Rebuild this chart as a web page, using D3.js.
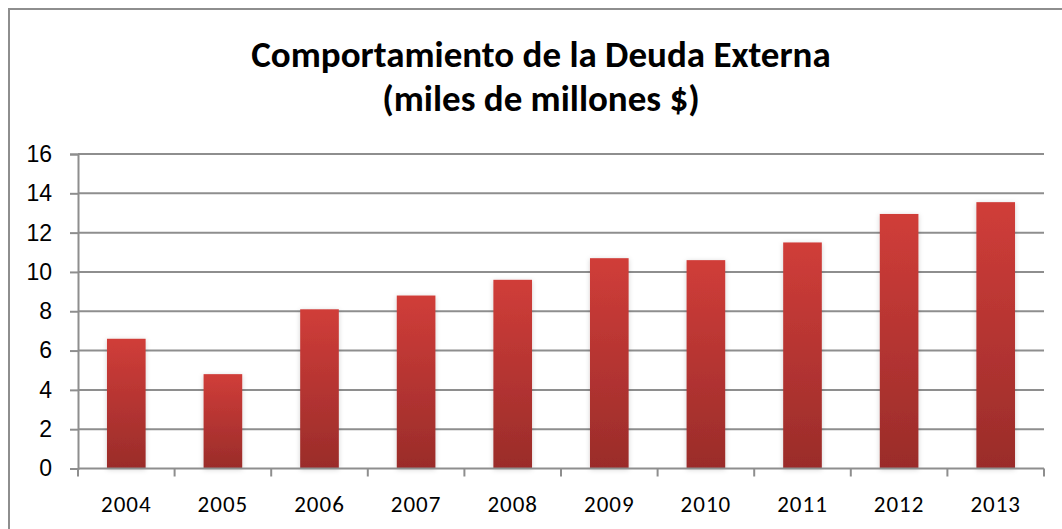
<!DOCTYPE html>
<html>
<head>
<meta charset="utf-8">
<script src="https://cdn.jsdelivr.net/npm/d3@7"></script>
<style>
  html, body { margin: 0; padding: 0; background: #fff; }
  svg { display: block; font-family: Carlito, Calibri, Lato, "Open Sans", sans-serif; }
</style>
</head>
<body>
<svg id="chart"></svg>
<script>
const years = ["2004", "2005", "2006", "2007", "2008", "2009", "2010", "2011", "2012", "2013"];
const deuda = [6.6, 4.8, 8.1, 8.8, 9.6, 10.7, 10.6, 11.5, 12.95, 13.55];
const yTicks = [0, 2, 4, 6, 8, 10, 12, 14, 16];
const titleLines = ["Comportamiento de la Deuda Externa", "(miles de millones $)"];

document.addEventListener("DOMContentLoaded", function () {
    const width = 1062, height = 529;
    const svg = d3.select("#chart").attr("width", width).attr("height", height);

    // chart frame (runs off the right/bottom edge like the original)
    svg.append("rect")
        .attr("x", 9).attr("y", 9)
        .attr("width", 1200).attr("height", 800)
        .attr("fill", "none")
        .attr("stroke", "#8e8e8e")
        .attr("stroke-width", 2);

    const defs = svg.append("defs");
    const grad = defs.append("linearGradient")
        .attr("id", "barGrad")
        .attr("x1", 0).attr("y1", 0).attr("x2", 0).attr("y2", 1);
    grad.append("stop").attr("offset", "0%").attr("stop-color", "#d03d39");
    grad.append("stop").attr("offset", "100%").attr("stop-color", "#9a2c2a");

    const shadow = defs.append("filter").attr("id", "shadow")
        .attr("x", "-30%").attr("y", "-10%").attr("width", "160%").attr("height", "120%");
    shadow.append("feDropShadow")
        .attr("dx", 0).attr("dy", 1).attr("stdDeviation", 2.5)
        .attr("flood-color", "#000").attr("flood-opacity", 0.18);

    const x0 = 78, x1 = 1044, yTop = 154, yBottom = 468.5;

    const x = d3.scaleBand()
        .domain(years)
        .range([x0, x1])
        .paddingInner(0.6)
        .paddingOuter(0.3);

    const y = d3.scaleLinear()
        .domain([0, 16])
        .range([yBottom, yTop]);

    // gridlines
    svg.append("g")
        .selectAll("line")
        .data(yTicks.filter(d => d > 0))
        .join("line")
        .attr("x1", x0).attr("x2", x1)
        .attr("y1", d => y(d)).attr("y2", d => y(d))
        .attr("stroke", "#8e8e8e")
        .attr("stroke-width", 2);

    // bars
    svg.append("g")
        .selectAll("rect")
        .data(deuda)
        .join("rect")
        .attr("x", (d, i) => x(years[i]))
        .attr("y", d => y(d))
        .attr("width", x.bandwidth())
        .attr("height", d => y(0) - y(d))
        .attr("fill", "url(#barGrad)")
        .attr("filter", "url(#shadow)");

    // y axis
    const yAxis = svg.append("g")
        .attr("transform", `translate(${x0},0)`)
        .call(d3.axisLeft(y).tickValues(yTicks).tickSize(8).tickPadding(18));
    yAxis.select(".domain").attr("stroke", "#8e8e8e").attr("stroke-width", 2);
    yAxis.selectAll(".tick line").attr("stroke", "#8e8e8e").attr("stroke-width", 2);
    yAxis.selectAll(".tick text")
        .attr("font-size", 23)
        .attr("font-family", null)
        .attr("fill", "#000");

    // x axis with ticks between categories
    const xAxisG = svg.append("g").attr("transform", `translate(0,${yBottom})`);
    xAxisG.append("line")
        .attr("x1", x0).attr("x2", x1)
        .attr("stroke", "#8e8e8e").attr("stroke-width", 2);
    const bounds = years.map(d => x(d) - x.step() * 0.3).concat([x1]);
    xAxisG.selectAll(".sep")
        .data(bounds)
        .join("line")
        .attr("class", "sep")
        .attr("x1", d => d).attr("x2", d => d)
        .attr("y1", 0).attr("y2", 8)
        .attr("stroke", "#8e8e8e").attr("stroke-width", 2);
    xAxisG.selectAll(".lbl")
        .data(years)
        .join("text")
        .attr("class", "lbl")
        .attr("x", d => x(d) + x.bandwidth() / 2)
        .attr("y", 43)
        .attr("text-anchor", "middle")
        .attr("font-size", 23)
        .attr("letter-spacing", 1)
        .attr("fill", "#000")
        .text(d => d);

    // title
    const title = svg.append("text")
        .attr("text-anchor", "middle")
        .attr("font-weight", "bold")
        .attr("font-size", 37)
        .attr("fill", "#000");
    title.append("tspan").attr("x", 541).attr("y", 67).text(titleLines[0]);
    title.append("tspan").attr("x", 541).attr("y", 111).text(titleLines[1]);
});
</script>
</body>
</html>
